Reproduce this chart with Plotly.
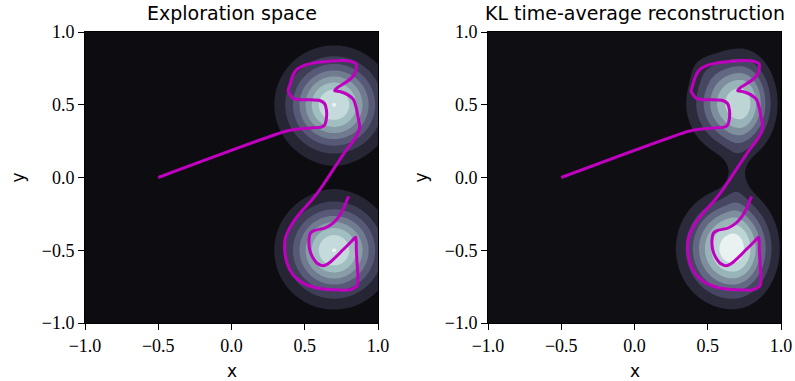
import numpy as np
import plotly.graph_objects as go

# ---------------- data ----------------
traj_x = [-0.500, 0.363, 0.443, 0.557, 0.613, 0.636, 0.648, 0.648, 0.636, 0.602,
          0.534, 0.466, 0.420, 0.393, 0.386, 0.398, 0.416, 0.443, 0.488, 0.557,
          0.648, 0.761, 0.818, 0.852, 0.848, 0.818, 0.773, 0.727, 0.704, 0.739,
          0.795, 0.834, 0.852, 0.863, 0.875, 0.863, 0.829, 0.784, 0.739, 0.693,
          0.648, 0.602, 0.545, 0.488, 0.432, 0.393, 0.368, 0.363, 0.379, 0.420,
          0.488, 0.579, 0.693, 0.807, 0.857, 0.863, 0.857, 0.852, 0.848, 0.811,
          0.761, 0.704, 0.659, 0.625, 0.584, 0.557, 0.534, 0.529, 0.539, 0.568,
          0.636, 0.693, 0.734, 0.766, 0.784, 0.800]
traj_y = [0.000, 0.316, 0.332, 0.342, 0.346, 0.362, 0.408, 0.465, 0.507, 0.529,
          0.534, 0.534, 0.545, 0.580, 0.596, 0.637, 0.694, 0.740, 0.768, 0.786,
          0.797, 0.804, 0.797, 0.779, 0.729, 0.683, 0.649, 0.621, 0.596, 0.591,
          0.568, 0.534, 0.477, 0.419, 0.351, 0.305, 0.248, 0.190, 0.122, 0.053,
          -0.016, -0.085, -0.158, -0.222, -0.291, -0.355, -0.417, -0.497, -0.589, -0.669,
          -0.726, -0.760, -0.772, -0.772, -0.744, -0.680, -0.589, -0.497, -0.410, -0.447,
          -0.497, -0.554, -0.593, -0.607, -0.589, -0.554, -0.497, -0.428, -0.382, -0.364,
          -0.348, -0.314, -0.268, -0.211, -0.165, -0.130]

# target (exploration) density: Gaussian components
L_CX = [0.70, 0.70]
L_CY = [0.50, -0.50]
L_SXL = [0.20, 0.20]
L_SXR = [0.20, 0.20]
L_SY = [0.20, 0.20]
L_AMP = [2.005, 2.005]
L_POW = [2.0, 2.0]

# time-average reconstruction: smooth bump components
R_CX = [0.72, 0.46, 0.70, 0.67]
R_CY = [0.51, 0.76, 0.00, -0.49]
R_SXL = [0.20, 0.08, 0.06, 0.205]
R_SXR = [0.14, 0.08, 0.06, 0.17]
R_SY = [0.205, 0.07, 0.20, 0.22]
R_AMP = [6.7, 0.4, 0.8, 7.6]
R_POW = [2.2, 2.0, 2.0, 2.2]

TICKS = [-1.0, -0.5, 0.0, 0.5, 1.0]
TICK_TEXT = ["\u22121.0", "\u22120.5", "0.0", "0.5", "1.0"]
TITLES = ["Exploration space", "KL time-average reconstruction"]

# ---------------- helpers ----------------
grid = np.linspace(-1, 1, 241)
GX, GY = np.meshgrid(grid, grid)


def mixture(cx, cy, sxl, sxr, sy, amp, pw):
    z = np.zeros_like(GX)
    for a, b, cl, cr, d, e, p in zip(cx, cy, sxl, sxr, sy, amp, pw):
        c = np.where(GX < a, cl, cr)
        q = ((GX - a) / c) ** 2 + ((GY - b) / d) ** 2
        z += e * np.exp(-0.5 * q ** (p / 2))
    return z


def bone(t):
    r = np.interp(t, [0, 0.746032, 1], [0, 0.652778, 1])
    g = np.interp(t, [0, 0.365079, 0.746032, 1], [0, 0.319444, 0.777778, 1])
    b = np.interp(t, [0, 0.365079, 1], [0, 0.444444, 1])
    return "rgb(%d,%d,%d)" % (round(r * 255), round(g * 255), round(b * 255))


def step_scale(nbands):
    cols = [bone((i + 0.5) / nbands) for i in range(nbands)]
    n = nbands - 1
    sc = []
    for i, c in enumerate(cols):
        lo = 0.0 if i == 0 else (i - 0.5) / n
        hi = 1.0 if i == n else (i + 0.5) / n
        sc.append([lo, c])
        sc.append([hi, c])
    return sc


zl = mixture(L_CX, L_CY, L_SXL, L_SXR, L_SY, L_AMP, L_POW)
zr = mixture(R_CX, R_CY, R_SXL, R_SXR, R_SY, R_AMP, R_POW)

fig = go.Figure()
fig.add_trace(go.Contour(x=grid, y=grid, z=zl, autocontour=False,
                         contours=dict(start=0.25, end=2.0, size=0.25, coloring="fill", showlines=False),
                         colorscale=step_scale(9), showscale=False, line=dict(width=0),
                         xaxis="x", yaxis="y", hoverinfo="skip"))
fig.add_trace(go.Contour(x=grid, y=grid, z=zr, autocontour=False,
                         contours=dict(start=1, end=7, size=1, coloring="fill", showlines=False),
                         colorscale=step_scale(8), showscale=False, line=dict(width=0),
                         xaxis="x2", yaxis="y2", hoverinfo="skip"))
for xa, ya in (("x", "y"), ("x2", "y2")):
    fig.add_trace(go.Scatter(x=traj_x, y=traj_y, mode="lines",
                             line=dict(color="#bf00bf", width=3, shape="spline", smoothing=0.6),
                             xaxis=xa, yaxis=ya, showlegend=False, hoverinfo="skip"))

W, H = 795, 381
xd1 = [85 / W, 378 / W]
xd2 = [488 / W, 781 / W]
yd = [(H - 323) / H, (H - 32) / H]

axis_common = dict(range=[-1, 1], tickvals=TICKS, ticktext=TICK_TEXT, ticks="outside",
                   ticklen=6, tickwidth=1, tickcolor="black", showline=True, linecolor="black",
                   linewidth=1, mirror=True, showgrid=False, zeroline=False, automargin=False,
                   tickfont=dict(family="Liberation Serif", size=18, color="black"))

fig.update_layout(
    width=W, height=H, margin=dict(l=0, r=0, t=0, b=0, autoexpand=False),
    paper_bgcolor="white", plot_bgcolor="white", showlegend=False,
    xaxis=dict(domain=xd1, anchor="y", **axis_common),
    yaxis=dict(domain=yd, anchor="x", **axis_common),
    xaxis2=dict(domain=xd2, anchor="y2", **axis_common),
    yaxis2=dict(domain=yd, anchor="x2", **axis_common),
)

annots = []
for xd, title in ((xd1, TITLES[0]), (xd2, TITLES[1])):
    cx = (xd[0] + xd[1]) / 2
    annots.append(dict(x=cx, y=1 - 13 / H, xref="paper", yref="paper", text=title, showarrow=False,
                       xanchor="center", yanchor="middle",
                       font=dict(family="DejaVu Sans", size=19, color="black")))
    annots.append(dict(x=cx, y=1 - 371 / H, xref="paper", yref="paper", text="x", showarrow=False,
                       xanchor="center", yanchor="middle",
                       font=dict(family="DejaVu Sans", size=17, color="black")))
    annots.append(dict(x=(xd[0] * W - 68) / W, y=1 - 177.5 / H, xref="paper", yref="paper", text="y",
                       showarrow=False, textangle=-90, xanchor="center", yanchor="middle",
                       font=dict(family="DejaVu Sans", size=17, color="black")))
fig.update_layout(annotations=annots)

fig.write_html("out.html")
